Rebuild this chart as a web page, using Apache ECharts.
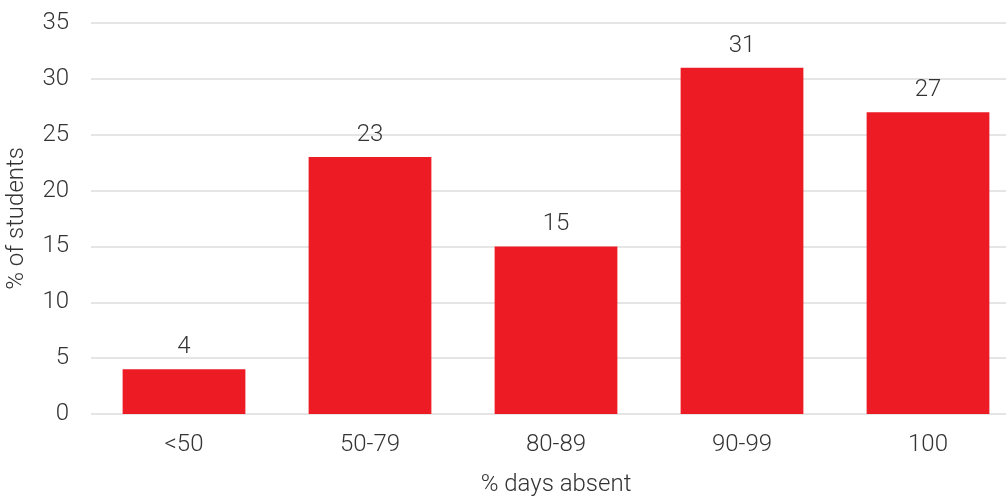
<!DOCTYPE html>
<html>
<head>
<meta charset="utf-8">
<script src="https://cdn.jsdelivr.net/npm/echarts@6/dist/echarts.min.js"></script>
<style>
  html, body { margin: 0; padding: 0; background: #fff; }
  #chart { width: 1006px; height: 500px; }
</style>
</head>
<body>
<div id="chart"></div>
<script>
// Share of students by absence band
const categories = ['<50', '50-79', '80-89', '90-99', '100'];
const studentShare = [4, 23, 15, 31, 27];
const yTicks = [0, 5, 10, 15, 20, 25, 30, 35];

const FONT = 'Roboto, "Liberation Sans", Arial, sans-serif';
const TEXT = '#333333';
const text = { fontFamily: FONT, fontSize: 24, fontWeight: 300, color: TEXT };

const chart = echarts.init(document.getElementById('chart'), null, { renderer: 'canvas' });
chart.setOption({
  animation: false,
  grid: {
    left: 91, right: -15, top: 23, bottom: 86,
    containLabel: false,
    outerBoundsMode: 'none'
  },
  xAxis: {
    type: 'category',
    data: categories,
    name: '% days absent',
    nameLocation: 'middle',
    nameGap: 59,
    nameTextStyle: text,
    axisLine: { show: false },
    axisTick: { show: false },
    axisLabel: Object.assign({ margin: 19 }, text)
  },
  yAxis: {
    type: 'value',
    min: yTicks[0],
    max: yTicks[yTicks.length - 1],
    interval: 5,
    name: '% of students',
    nameLocation: 'middle',
    nameGap: 62,
    nameTextStyle: text,
    axisLine: { show: false },
    axisTick: { show: false },
    axisLabel: Object.assign({ margin: 22 }, text),
    splitLine: { lineStyle: { color: '#dddddd', width: 1.5 } }
  },
  series: [{
    type: 'bar',
    data: studentShare,
    barCategoryGap: '34%',
    itemStyle: { color: '#ed1c24' },
    label: Object.assign({ show: true, position: 'top', distance: 10 }, text)
  }]
});
</script>
</body>
</html>
